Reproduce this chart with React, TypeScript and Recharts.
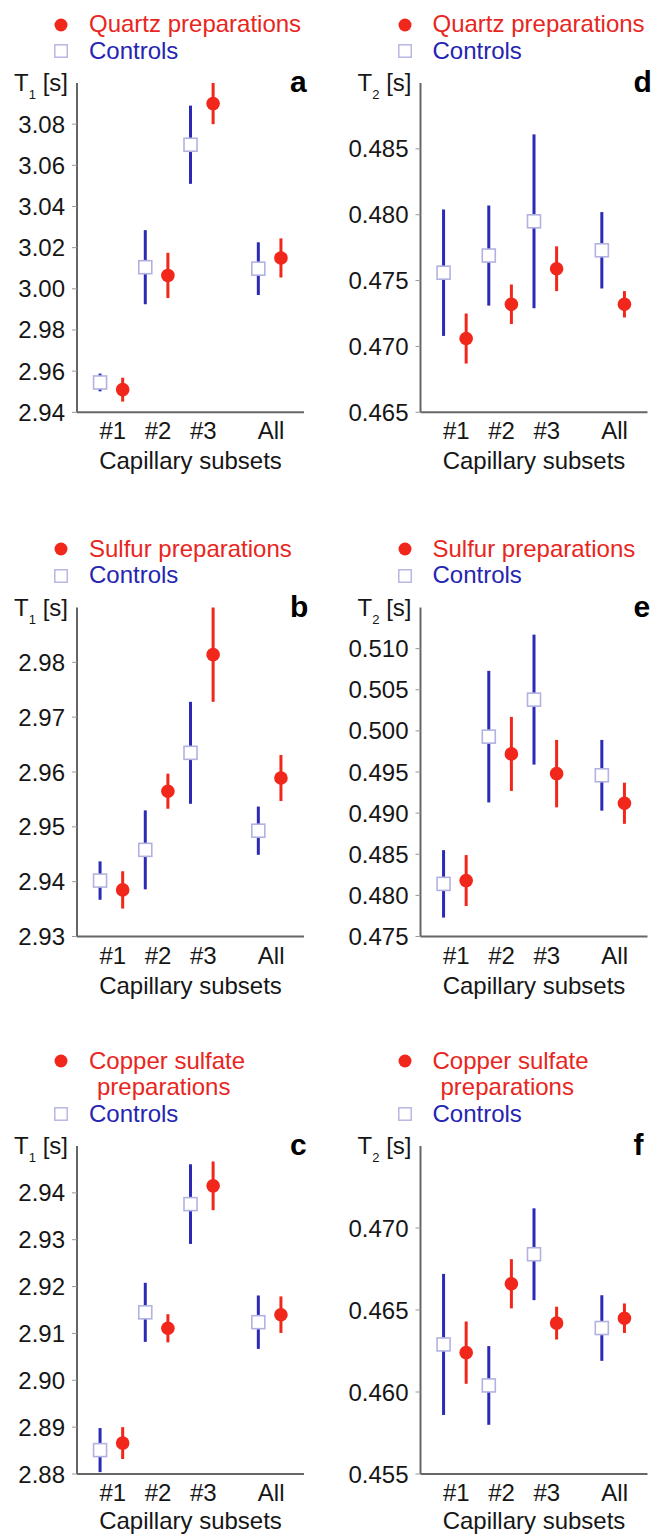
import React from 'react';
import { ScatterChart, Scatter, XAxis, YAxis, ErrorBar, Legend, Customized } from 'recharts';

// ---------- shared categories ----------
const categories = ['#1', '#2', '#3', 'All'];
const categoryPositions = [1, 2, 3, 4.5];
const xAxisTitle = 'Capillary subsets';
const controlsLabel = 'Controls';

// ---------- panel a : Quartz, T1 ----------
const quartzLabel = ['Quartz preparations'];
const aCtrl = [2.9545, 3.0105, 3.070, 3.0098];
const aCtrlErr = [0.0043, 0.018, 0.019, 0.0128];
const aPrep = [2.951, 3.0065, 3.090, 3.015];
const aPrepErr = [0.0058, 0.011, 0.010, 0.0095];
const aTicks = [2.94, 2.96, 2.98, 3.0, 3.02, 3.04, 3.06, 3.08];
const aDomain: [number, number] = [2.94, 3.1];

// ---------- panel d : Quartz, T2 ----------
const dCtrl = [0.4756, 0.4769, 0.4795, 0.4773];
const dCtrlErr = [0.0048, 0.0038, 0.0066, 0.0029];
const dPrep = [0.4706, 0.4732, 0.4759, 0.4732];
const dPrepErr = [0.0019, 0.0015, 0.0017, 0.001];
const dTicks = [0.465, 0.47, 0.475, 0.48, 0.485];
const dDomain: [number, number] = [0.465, 0.49];

// ---------- panel b : Sulfur, T1 ----------
const sulfurLabel = ['Sulfur preparations'];
const bCtrl = [2.9402, 2.9458, 2.9635, 2.9493];
const bCtrlErr = [0.0035, 0.0072, 0.0093, 0.0044];
const bPrep = [2.9385, 2.9565, 2.9814, 2.9589];
const bPrepErr = [0.0034, 0.0032, 0.0086, 0.0042];
const bTicks = [2.93, 2.94, 2.95, 2.96, 2.97, 2.98];
const bDomain: [number, number] = [2.93, 2.99];

// ---------- panel e : Sulfur, T2 ----------
const eCtrl = [0.4814, 0.4993, 0.5038, 0.4946];
const eCtrlErr = [0.0041, 0.008, 0.0079, 0.0043];
const ePrep = [0.4818, 0.4972, 0.4948, 0.4912];
const ePrepErr = [0.0031, 0.0045, 0.0041, 0.0025];
const eTicks = [0.475, 0.48, 0.485, 0.49, 0.495, 0.5, 0.505, 0.51];
const eDomain: [number, number] = [0.475, 0.515];

// ---------- panel c : Copper sulfate, T1 ----------
const copperLabel = ['Copper sulfate', 'preparations'];
const cCtrl = [2.8851, 2.9145, 2.9376, 2.9124];
const cCtrlErr = [0.0047, 0.0063, 0.0085, 0.0057];
const cPrep = [2.8866, 2.9111, 2.9415, 2.914];
const cPrepErr = [0.0034, 0.003, 0.0052, 0.0039];
const cTicks = [2.88, 2.89, 2.9, 2.91, 2.92, 2.93, 2.94];
const cDomain: [number, number] = [2.88, 2.95];

// ---------- panel f : Copper sulfate, T2 ----------
const fCtrl = [0.4629, 0.4604, 0.4684, 0.4639];
const fCtrlErr = [0.0043, 0.0024, 0.0028, 0.002];
const fPrep = [0.4624, 0.4666, 0.4642, 0.4645];
const fPrepErr = [0.0019, 0.0015, 0.001, 0.0009];
const fTicks = [0.455, 0.46, 0.465, 0.47];
const fDomain: [number, number] = [0.455, 0.475];

// ---------- styling ----------
const FONT = '"Liberation Sans", Arial, Helvetica, sans-serif';
const RED = '#f2271c';
const RED_TEXT = '#e8261e';
const BLUE = '#2a2ab6';
const BLUE_TEXT = '#2525b2';
const SQUARE_STROKE = '#b2b2e2';
const AXIS = '#666666';
const TEXT = '#161616';
const GROUP_OFFSET = 0.25;
const X_DOMAIN: [number, number] = [0.24, 5.26];
const PLOT_WIDTH = 227;
const X_AXIS_HEIGHT = 66;

const CtrlShape = (p: any) => (
  <rect x={p.cx - 6.5} y={p.cy - 6.5} width={13} height={13} fill="#ffffff" stroke={SQUARE_STROKE} strokeWidth={1.6} />
);
const PrepShape = (p: any) => <circle cx={p.cx} cy={p.cy} r={6.8} fill={RED} />;

const XTick = (props: any) => {
  const { x, y, payload } = props;
  const idx = categoryPositions.indexOf(payload.value);
  return (
    <text x={x + 1.5} y={y} dy={27} textAnchor="middle" fontSize={24} fill={TEXT} fontFamily={FONT}>
      {categories[idx]}
    </text>
  );
};

const LegendBox = ({ prepLines }: { prepLines: string[] }) => (
  <div style={{ fontFamily: FONT, fontSize: 24, whiteSpace: 'nowrap' }}>
    {prepLines.map((line, i) => (
      <div key={i} style={{ display: 'flex', alignItems: 'center', height: 26.5, color: RED_TEXT }}>
        <span style={{ width: 35, display: 'inline-flex', alignItems: 'center' }}>
          {i === 0 ? (
            <svg width={14} height={14}>
              <circle cx={7} cy={7} r={6.5} fill={RED} />
            </svg>
          ) : null}
        </span>
        <span style={{ paddingLeft: i > 0 ? 8 : 0, lineHeight: '26.5px' }}>{line}</span>
      </div>
    ))}
    <div style={{ display: 'flex', alignItems: 'center', height: 26.5, color: BLUE_TEXT }}>
      <span style={{ width: 35, display: 'inline-flex', alignItems: 'center' }}>
        <svg width={14} height={14}>
          <rect x={0.8} y={0.8} width={12.4} height={12.4} fill="#ffffff" stroke={SQUARE_STROKE} strokeWidth={1.4} />
        </svg>
      </span>
      <span style={{ lineHeight: '26.5px' }}>{controlsLabel}</span>
    </div>
  </div>
);

type PanelProps = {
  left: number;
  top: number;
  marginTop: number;
  plotHeight: number;
  titleOffset: number;
  yAxisWidth: number;
  prepLines: string[];
  letter: string;
  sub: string;
  domain: [number, number];
  ticks: number[];
  digits: number;
  ctrl: number[];
  ctrlErr: number[];
  prep: number[];
  prepErr: number[];
};

const Panel = (p: PanelProps) => {
  const width = 326;
  const height = p.marginTop + p.plotHeight + X_AXIS_HEIGHT;
  const marginRight = width - p.yAxisWidth - PLOT_WIDTH;
  const ctrlData = categoryPositions.map((pos, i) => ({ x: pos - GROUP_OFFSET, y: p.ctrl[i], err: p.ctrlErr[i] }));
  const prepData = categoryPositions.map((pos, i) => ({ x: pos + GROUP_OFFSET, y: p.prep[i], err: p.prepErr[i] }));
  const plotLeft = p.yAxisWidth;
  const legendTop = p.marginTop - 45.25 - 26.5 * p.prepLines.length;

  const YLabel = (lp: any) => {
    const vb = lp.viewBox || {};
    const xr = (vb.x ?? 0) + (vb.width ?? p.yAxisWidth) - 9;
    const yb = (vb.y ?? p.marginTop) + 8;
    return (
      <text x={xr} y={yb} textAnchor="end" fontSize={24} fill={TEXT} fontFamily={FONT}>
        <tspan>T</tspan>
        <tspan fontSize={13} dy={8}>{p.sub}</tspan>
        <tspan dy={-8}> [s]</tspan>
      </text>
    );
  };

  const XLabel = (lp: any) => {
    const vb = lp.viewBox || {};
    const cx = (vb.x ?? plotLeft) + (vb.width ?? PLOT_WIDTH) / 2;
    const yb = (vb.y ?? p.marginTop + p.plotHeight) + p.titleOffset;
    return (
      <text x={cx} y={yb} textAnchor="middle" fontSize={24} fill={TEXT} fontFamily={FONT}>
        {xAxisTitle}
      </text>
    );
  };

  const Letter = () => (
    <text x={plotLeft + 213} y={p.marginTop + 9} fontSize={30} fontWeight="bold" fill="#000" fontFamily={FONT}>
      {p.letter}
    </text>
  );

  return (
    <div style={{ position: 'absolute', left: p.left, top: p.top, width, height }}>
      <ScatterChart
        width={width}
        height={height}
        margin={{ top: p.marginTop, right: marginRight, bottom: 0, left: 0 }}
      >
        <XAxis
          type="number"
          dataKey="x"
          domain={X_DOMAIN}
          ticks={categoryPositions}
          interval={0}
          allowDataOverflow
          height={X_AXIS_HEIGHT}
          axisLine={{ stroke: AXIS, strokeWidth: 2 }}
          tickLine={false}
          tickSize={0}
          tickMargin={0}
          tick={<XTick />}
          label={{ content: <XLabel /> }}
        />
        <YAxis
          type="number"
          dataKey="y"
          domain={p.domain}
          ticks={p.ticks}
          interval={0}
          allowDataOverflow
          width={p.yAxisWidth}
          axisLine={{ stroke: AXIS, strokeWidth: 2 }}
          tickLine={{ stroke: '#999999', strokeWidth: 1 }}
          tickSize={5}
          tickMargin={7}
          tick={{ fontSize: 24, fill: TEXT, fontFamily: FONT }}
          tickFormatter={(v: number) => v.toFixed(p.digits)}
          label={{ content: <YLabel /> }}
        />
        <Legend
          layout="vertical"
          align="center"
          verticalAlign="middle"
          wrapperStyle={{ top: legendTop, left: plotLeft - 23, width: 'auto', height: 'auto' }}
          content={() => <LegendBox prepLines={p.prepLines} />}
        />
        <Scatter name={controlsLabel} data={ctrlData} shape={CtrlShape} isAnimationActive={false}>
          <ErrorBar dataKey="err" direction="y" width={0} stroke={BLUE} strokeWidth={3} isAnimationActive={false} />
        </Scatter>
        <Scatter name={p.prepLines.join(' ')} data={prepData} shape={PrepShape} isAnimationActive={false}>
          <ErrorBar dataKey="err" direction="y" width={0} stroke={RED} strokeWidth={3} isAnimationActive={false} />
        </Scatter>
        <Customized component={<Letter />} />
      </ScatterChart>
    </div>
  );
};

const rows = [
  { top: 0, marginTop: 83, plotHeight: 329.3, titleOffset: 57 },
  { top: 500, marginTop: 107.5, plotHeight: 329, titleOffset: 57 },
  { top: 1020, marginTop: 126, plotHeight: 328, titleOffset: 55 },
];

export default function App() {
  return (
    <div
      style={{
        position: 'absolute',
        left: 0,
        top: 0,
        width: 652,
        height: 1535,
        overflow: 'hidden',
        background: '#ffffff',
        fontFamily: FONT,
      }}
    >
      <Panel left={0} {...rows[0]} yAxisWidth={77} prepLines={quartzLabel} letter="a" sub="1"
        domain={aDomain} ticks={aTicks} digits={2} ctrl={aCtrl} ctrlErr={aCtrlErr} prep={aPrep} prepErr={aPrepErr} />
      <Panel left={326} {...rows[0]} yAxisWidth={94.5} prepLines={quartzLabel} letter="d" sub="2"
        domain={dDomain} ticks={dTicks} digits={3} ctrl={dCtrl} ctrlErr={dCtrlErr} prep={dPrep} prepErr={dPrepErr} />
      <Panel left={0} {...rows[1]} yAxisWidth={77} prepLines={sulfurLabel} letter="b" sub="1"
        domain={bDomain} ticks={bTicks} digits={2} ctrl={bCtrl} ctrlErr={bCtrlErr} prep={bPrep} prepErr={bPrepErr} />
      <Panel left={326} {...rows[1]} yAxisWidth={94.5} prepLines={sulfurLabel} letter="e" sub="2"
        domain={eDomain} ticks={eTicks} digits={3} ctrl={eCtrl} ctrlErr={eCtrlErr} prep={ePrep} prepErr={ePrepErr} />
      <Panel left={0} {...rows[2]} yAxisWidth={77} prepLines={copperLabel} letter="c" sub="1"
        domain={cDomain} ticks={cTicks} digits={2} ctrl={cCtrl} ctrlErr={cCtrlErr} prep={cPrep} prepErr={cPrepErr} />
      <Panel left={326} {...rows[2]} yAxisWidth={94.5} prepLines={copperLabel} letter="f" sub="2"
        domain={fDomain} ticks={fTicks} digits={3} ctrl={fCtrl} ctrlErr={fCtrlErr} prep={fPrep} prepErr={fPrepErr} />
    </div>
  );
}
